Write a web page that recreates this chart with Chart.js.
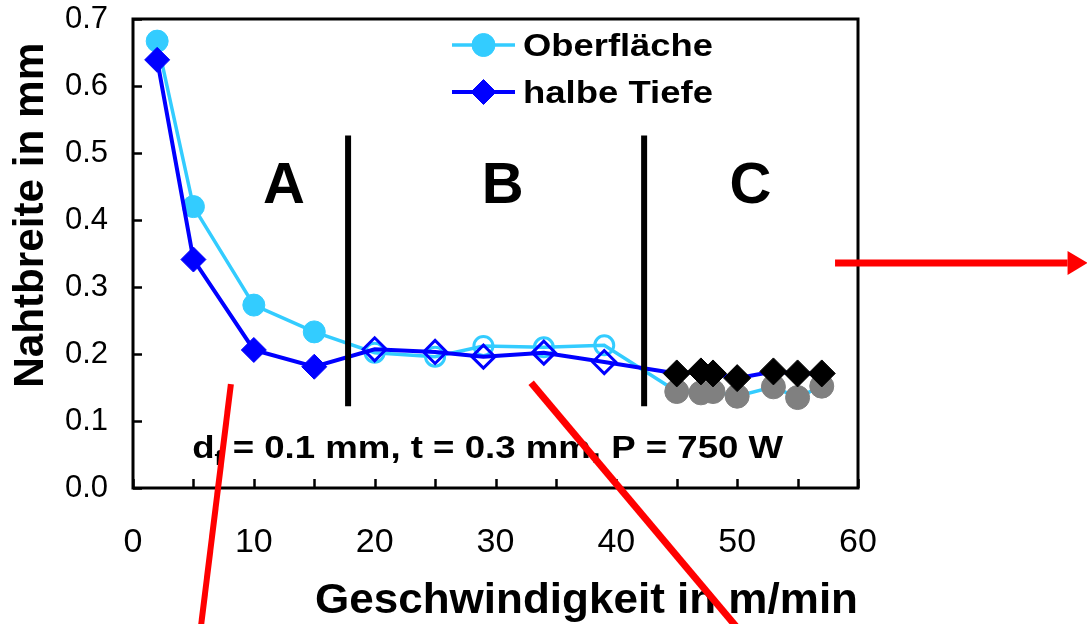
<!DOCTYPE html>
<html>
<head>
<meta charset="utf-8">
<title>Nahtbreite über Geschwindigkeit</title>
<script src="https://cdn.jsdelivr.net/npm/chart.js@4.4.1/dist/chart.umd.min.js"></script>
<style>
  html, body { margin: 0; padding: 0; background: #ffffff; }
  canvas { display: block; }
</style>
</head>
<body>
<canvas id="chart" width="1087" height="624"></canvas>
<script>
// Schweißgeschwindigkeit in m/min
const speed = [2, 5, 10, 15, 20, 25, 29, 34, 39, 45, 47, 48, 50, 53, 55, 57];
// Nahtbreite an der Oberfläche in mm
const widthSurface = [0.667, 0.420, 0.273, 0.233, 0.202, 0.196, 0.212, 0.210, 0.213, 0.144, 0.142, 0.144, 0.137, 0.151, 0.135, 0.152];
// Nahtbreite in halber Tiefe in mm
const widthHalfDepth = [0.639, 0.341, 0.206, 0.181, 0.207, 0.203, 0.196, 0.202, 0.188, 0.171, 0.174, 0.171, 0.164, 0.174, 0.171, 0.171];
const seriesNames = ['Oberfläche', 'halbe Tiefe'];

// Bereichsgrenzen (m/min) und Bereichsnamen
const zoneBounds = [17.8, 42.3];
const zoneNames = ['A', 'B', 'C'];
const zoneLabelX = [12.5, 30.6, 51.1];

// Achsen
const xTickValues = [0, 5, 10, 15, 20, 25, 30, 35, 40, 45, 50, 55, 60];
const xTickLabels = ['0', '', '10', '', '20', '', '30', '', '40', '', '50', '', '60'];
const yTickValues = [0, 0.1, 0.2, 0.3, 0.4, 0.5, 0.6, 0.7];
const yTickLabels = ['0.0', '0.1', '0.2', '0.3', '0.4', '0.5', '0.6', '0.7'];
const xTitle = 'Geschwindigkeit in m/min';
const yTitle = 'Nahtbreite in mm';
const paramParts = ['d', 'f', ' = 0.1 mm, t = 0.3 mm, P = 750 W'];

// Rote Hinweispfeile/-linien (Koordinaten in Achseneinheiten)
const pointers = [
  { from: [58.1, 0.336], to: [79.0, 0.336], width: 7, head: true },
  { from: [8.1, 0.155], to: [5.6, -0.21], width: 6, head: false },
  { from: [32.95, 0.157], to: [50.3, -0.215], width: 7, head: false }
];

const FONT = "'Liberation Sans', Arial, Helvetica, sans-serif";
const LIGHT = '#33CCFF';
const BLUE = '#0000FF';

function zoneOf(x) {
  return x < zoneBounds[0] ? 0 : (x < zoneBounds[1] ? 1 : 2);
}

const surfaceMarks = {
  fill: [LIGHT, 'rgba(0,0,0,0)', '#808080'],
  stroke: [LIGHT, LIGHT, '#808080'],
  radius: [11, 9.5, 12],
  border: [1, 3, 1]
};
const depthMarks = {
  fill: [BLUE, 'rgba(0,0,0,0)', '#000000'],
  stroke: [BLUE, BLUE, '#000000'],
  radius: [12.5, 11.5, 13.5],
  border: [1, 3, 1]
};

function markOptions(m) {
  const z = c => zoneOf(c.raw ? c.raw.x : 0);
  return {
    pointBackgroundColor: c => m.fill[z(c)],
    pointBorderColor: c => m.stroke[z(c)],
    pointRadius: c => m.radius[z(c)],
    pointHoverRadius: c => m.radius[z(c)],
    pointBorderWidth: c => m.border[z(c)]
  };
}

// horizontal an eine Zielbreite angepasster Text
function fitText(ctx, text, x, y, size, width, align) {
  ctx.save();
  ctx.font = 'bold ' + size + 'px ' + FONT;
  const w = ctx.measureText(text).width;
  const sx = width ? width / w : 1;
  ctx.translate(x, y);
  ctx.scale(sx, 1);
  ctx.textAlign = align;
  ctx.textBaseline = 'alphabetic';
  ctx.fillStyle = '#000';
  ctx.fillText(text, 0, 0);
  ctx.restore();
}

const decorations = {
  id: 'decorations',
  afterDatasetsDraw(chart) {
    const ctx = chart.ctx;
    const a = chart.chartArea;
    const xs = chart.scales.x, ys = chart.scales.y;

    // Rahmen
    ctx.save();
    ctx.strokeStyle = '#000';
    ctx.lineWidth = 3;
    ctx.strokeRect(a.left, a.top, a.right - a.left, a.bottom - a.top);

    // nach innen zeigende Teilstriche
    ctx.lineWidth = 2.5;
    ctx.beginPath();
    ys.ticks.forEach(t => {
      const py = Math.round(ys.getPixelForValue(t.value)) + 0.5;
      ctx.moveTo(a.left, py);
      ctx.lineTo(a.left + 9, py);
    });
    xs.ticks.forEach(t => {
      const px = Math.round(xs.getPixelForValue(t.value)) + 0.5;
      ctx.moveTo(px, a.bottom);
      ctx.lineTo(px, a.bottom - 9);
    });
    ctx.stroke();

    // Bereichsgrenzen
    ctx.lineWidth = 6;
    ctx.beginPath();
    zoneBounds.forEach(b => {
      const px = xs.getPixelForValue(b);
      ctx.moveTo(px, ys.getPixelForValue(0.526));
      ctx.lineTo(px, ys.getPixelForValue(0.122));
    });
    ctx.stroke();

    // Bereichsbuchstaben
    ctx.fillStyle = '#000';
    ctx.font = 'bold 58px ' + FONT;
    ctx.textAlign = 'center';
    ctx.textBaseline = 'alphabetic';
    zoneNames.forEach((n, i) => {
      ctx.fillText(n, xs.getPixelForValue(zoneLabelX[i]), ys.getPixelForValue(0.426));
    });

    // Parameterzeile mit Index
    const size = 32, sub = 21;
    ctx.font = 'bold ' + size + 'px ' + FONT;
    const w0 = ctx.measureText(paramParts[0]).width;
    const w2 = ctx.measureText(paramParts[2]).width;
    ctx.font = 'bold ' + sub + 'px ' + FONT;
    const w1 = ctx.measureText(paramParts[1]).width;
    const total = w0 + w1 + w2;
    const target = 591;
    const sx = target / total;
    const cx = xs.getPixelForValue(29.35);
    const by = ys.getPixelForValue(0.045);
    ctx.save();
    ctx.translate(cx - target / 2, by);
    ctx.scale(sx, 1);
    ctx.textAlign = 'left';
    ctx.font = 'bold ' + size + 'px ' + FONT;
    ctx.fillText(paramParts[0], 0, 0);
    ctx.font = 'bold ' + sub + 'px ' + FONT;
    ctx.fillText(paramParts[1], w0, 7);
    ctx.font = 'bold ' + size + 'px ' + FONT;
    ctx.fillText(paramParts[2], w0 + w1, 0);
    ctx.restore();

    // Legende
    const lgX = a.left + 319, lgW = 63, rows = [a.top + 26, a.top + 73];
    chart.data.datasets.forEach((ds, i) => {
      const y = rows[i];
      ctx.strokeStyle = ds.borderColor;
      ctx.lineWidth = ds.borderWidth;
      ctx.beginPath();
      ctx.moveTo(lgX, y);
      ctx.lineTo(lgX + lgW, y);
      ctx.stroke();
      ctx.fillStyle = ds.borderColor;
      ctx.strokeStyle = ds.borderColor;
      ctx.lineWidth = 1;
      Chart.helpers.drawPoint(ctx, {
        pointStyle: ds.pointStyle,
        radius: i === 0 ? 11.5 : 12.5,
        borderWidth: 1,
        rotation: 0
      }, lgX + lgW / 2, y);
      fitText(ctx, ds.label, lgX + lgW + 8, y + 11, 32, 190, 'left');
    });
    ctx.restore();
  },
  afterDraw(chart) {
    const ctx = chart.ctx;
    const a = chart.chartArea;
    const xs = chart.scales.x, ys = chart.scales.y;

    // Achsentitel
    fitText(ctx, xTitle, a.right, a.bottom + 125, 42, 543, 'right');
    ctx.save();
    ctx.translate(a.left - 90, ys.getPixelForValue(0.407));
    ctx.rotate(-Math.PI / 2);
    fitText(ctx, yTitle, 0, 0, 42, 345, 'center');
    ctx.restore();

    // rote Hinweise
    ctx.save();
    ctx.strokeStyle = '#FF0000';
    ctx.fillStyle = '#FF0000';
    ctx.lineCap = 'butt';
    pointers.forEach(p => {
      const x1 = xs.getPixelForValue(p.from[0]), y1 = ys.getPixelForValue(p.from[1]);
      const x2 = xs.getPixelForValue(p.to[0]), y2 = ys.getPixelForValue(p.to[1]);
      const ang = Math.atan2(y2 - y1, x2 - x1);
      const headLen = p.head ? 20 : 0;
      ctx.lineWidth = p.width;
      ctx.beginPath();
      ctx.moveTo(x1, y1);
      ctx.lineTo(x2 - Math.cos(ang) * headLen, y2 - Math.sin(ang) * headLen);
      ctx.stroke();
      if (p.head) {
        const hw = 12;
        const bx = x2 - Math.cos(ang) * headLen, by = y2 - Math.sin(ang) * headLen;
        ctx.beginPath();
        ctx.moveTo(x2, y2);
        ctx.lineTo(bx + Math.sin(ang) * hw, by - Math.cos(ang) * hw);
        ctx.lineTo(bx - Math.sin(ang) * hw, by + Math.cos(ang) * hw);
        ctx.closePath();
        ctx.fill();
      }
    });
    ctx.restore();
  }
};

new Chart(document.getElementById('chart'), {
  type: 'line',
  data: {
    datasets: [
      Object.assign({
        label: seriesNames[0],
        data: speed.map((x, i) => ({ x: x, y: widthSurface[i] })),
        borderColor: LIGHT,
        borderWidth: 3.5,
        pointStyle: 'circle',
        tension: 0,
        fill: false,
        clip: false,
        order: 2
      }, markOptions(surfaceMarks)),
      Object.assign({
        label: seriesNames[1],
        data: speed.map((x, i) => ({ x: x, y: widthHalfDepth[i] })),
        borderColor: BLUE,
        borderWidth: 4,
        pointStyle: 'rectRot',
        tension: 0,
        fill: false,
        clip: false,
        order: 1
      }, markOptions(depthMarks))
    ]
  },
  options: {
    responsive: false,
    devicePixelRatio: 1,
    animation: false,
    layout: { autoPadding: false, padding: { left: 0, top: 19, right: 229, bottom: 0 } },
    plugins: {
      legend: { display: false },
      tooltip: { enabled: false },
      title: { display: false }
    },
    scales: {
      x: {
        type: 'linear',
        min: 0,
        max: 60,
        grid: { display: false, drawTicks: false },
        border: { display: false },
        title: { display: false },
        afterBuildTicks: s => { s.ticks = xTickValues.map(v => ({ value: v })); },
        afterFit: s => { s.height = 136; s.paddingLeft = 0; s.paddingRight = 0; },
        ticks: {
          autoSkip: false,
          maxRotation: 0,
          minRotation: 0,
          padding: 34,
          color: '#000',
          font: { family: FONT, size: 34 },
          callback: (v) => {
            const i = xTickValues.indexOf(v);
            return i >= 0 ? xTickLabels[i] : '';
          }
        }
      },
      y: {
        type: 'linear',
        min: 0,
        max: 0.7,
        grid: { display: false, drawTicks: false },
        border: { display: false },
        title: { display: false },
        afterBuildTicks: s => { s.ticks = yTickValues.map(v => ({ value: v })); },
        afterFit: s => { s.width = 133; s.paddingTop = 0; s.paddingBottom = 0; },
        ticks: {
          autoSkip: false,
          padding: 25,
          color: '#000',
          font: { family: FONT, size: 31 },
          callback: (v) => {
            const i = yTickValues.findIndex(t => Math.abs(t - v) < 1e-9);
            return i >= 0 ? yTickLabels[i] : '';
          }
        }
      }
    }
  },
  plugins: [decorations]
});
</script>
</body>
</html>
